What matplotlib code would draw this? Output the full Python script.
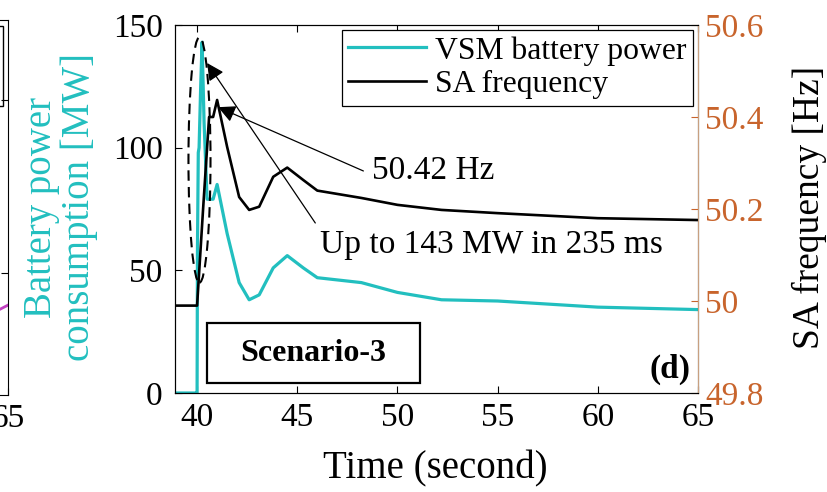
#!/usr/bin/env python3

# import modules
from matplotlib import pyplot as plt
from matplotlib.patches import Ellipse, Rectangle

plt.rcParams['font.family'] = ['Liberation Serif', 'DejaVu Serif']
plt.rcParams['mathtext.fontset'] = 'stix'

# data (scenario 3)
time_power = [38.9, 39.98, 40.0, 40.02, 40.06, 40.1, 40.18, 40.25, 40.35, 40.5,
              40.8, 41.0, 41.5, 42.1, 42.6, 43.1, 43.8, 44.5, 45.3, 46.0,
              48.2, 50.0, 52.2, 55.0, 60.0, 65.0]
battery_power = [0, 0, 0, 60, 98, 100, 125, 143, 110, 79,
                 79, 85, 65, 45, 38, 40, 51, 56, 51, 47,
                 45, 41, 38, 37.5, 35, 34]

time_freq = [38.9, 39.5, 40.0, 40.3, 40.6, 40.8, 41.0, 41.5, 42.1, 42.6,
             43.1, 43.8, 44.5, 45.3, 46.0, 48.2, 50.0, 52.2, 55.0, 60.0, 65.0]
sa_freq = [49.99, 49.99, 49.99, 50.2, 50.4, 50.4, 50.437, 50.335, 50.226, 50.198,
           50.205, 50.27, 50.29, 50.263, 50.24, 50.224, 50.209, 50.198, 50.191, 50.18, 50.176]

# tail end of the neighbouring panel (c), visible at the left edge
time_left = [63.0, 63.5, 64.0, 64.5, 65.0]
value_left = [36, 34, 37, 34, 36]

power_ticks = [0, 50, 100, 150]
freq_ticks = [49.8, 50, 50.2, 50.4, 50.6]
time_ticks = [40, 45, 50, 55, 60, 65]

cyan = '#22BFBF'
orange = '#C8642C'

fig = plt.figure(figsize=(8.28, 4.92), dpi=100)

# left neighbour panel, mostly outside the figure
axl = fig.add_axes([-0.6, 0.197, 0.6097, 0.762])
axl.plot(time_left, value_left, color='#C040C0', lw=2)
axl.set_xlim(38.9, 65)
axl.set_ylim(0, 150)
axl.set_xticks([65])
axl.set_yticks([49, 118])
axl.tick_params(axis='both', direction='in', labelsize=24, pad=6,
                right=True, left=False, labelleft=False, length=5)
axl.add_patch(Rectangle((0.5, 0.77), 0.49, 0.215, transform=axl.transAxes,
                        fill=False, lw=1, ec='k'))

# main panel
ax1 = fig.add_axes([0.2114, 0.2012, 0.6316, 0.7480])
ax2 = ax1.twinx()

ax1.plot(time_power, battery_power, color=cyan, lw=2.3, label='VSM battery power')
ax2.plot(time_freq, sa_freq, color='k', lw=1.9, label='SA frequency')

ax1.set_xlim(38.9, 65)
ax1.set_ylim(0, 150)
ax2.set_ylim(49.8, 50.6)
ax1.set_xticks(time_ticks)
ax1.set_yticks(power_ticks)
ax2.set_yticks(freq_ticks)
ax2.set_yticklabels(['49.8', '50', '50.2', '50.4', '50.6'])

ax1.tick_params(axis='x', direction='in', top=True, labelsize=24, pad=7, length=5)
ax1.tick_params(axis='y', direction='in', labelsize=24, pad=9, length=5)
ax2.tick_params(axis='y', direction='in', labelsize=24, pad=5, length=5,
                colors=orange, labelcolor=orange)
ax2.spines['right'].set_color('#C8A080')

ax1.set_xlabel('Time (second)', fontsize=28)
ax1.xaxis.set_label_coords(0.497, -0.155)
ax1.set_ylabel('Battery power\nconsumption [MW]', fontsize=28, color=cyan,
               linespacing=1.0)
ax1.yaxis.set_label_coords(-0.148, 0.505)
ax2.set_ylabel('SA frequency [Hz]', fontsize=27)
ax2.yaxis.set_label_coords(1.18, 0.505)

# dashed ellipse round the peak
ax1.add_patch(Ellipse((40.12, 95), 1.1, 100, fill=False, ls=(0, (5, 3)),
                      lw=1.5, ec='k', zorder=4))

# annotations
arrow = dict(arrowstyle='-|>', mutation_scale=26, lw=0.9, color='k',
             shrinkA=0, shrinkB=0)
ax1.annotate('', xy=(41.05, 116.5), xytext=(48.3, 90.5), arrowprops=arrow)
ax1.text(48.75, 90.5, '50.42 Hz', fontsize=24, va='center', ha='left')
ax1.annotate('', xy=(40.5, 134.5), xytext=(45.9, 69.3), arrowprops=arrow)
ax1.text(46.15, 60.3, 'Up to 143 MW in 235 ms', fontsize=24, va='center', ha='left')

# scenario box and panel tag
ax1.add_patch(Rectangle((0.061, 0.027), 0.407, 0.163, transform=ax1.transAxes,
                        fill=False, lw=1.6, ec='k', zorder=5))
ax1.text(0.265, 0.108, 'Scenario-3', transform=ax1.transAxes, fontsize=23,
         fontweight='bold', ha='center', va='center')
ax1.text(0.985, 0.065, '(d)', transform=ax1.transAxes, fontsize=24,
         fontweight='bold', ha='right', va='center')

# legend with both lines
h1, l1 = ax1.get_legend_handles_labels()
h2, l2 = ax2.get_legend_handles_labels()
leg = ax2.legend(h1 + h2, l1 + l2, loc='upper right', fontsize=22.8,
                 fancybox=False, framealpha=1, edgecolor='k',
                 handlelength=2.45, handletextpad=0.3, borderpad=0.2,
                 labelspacing=0.15, borderaxespad=0.15)
leg.get_frame().set_linewidth(0.9)

# write to disk
plt.savefig('out.png', dpi=100)
